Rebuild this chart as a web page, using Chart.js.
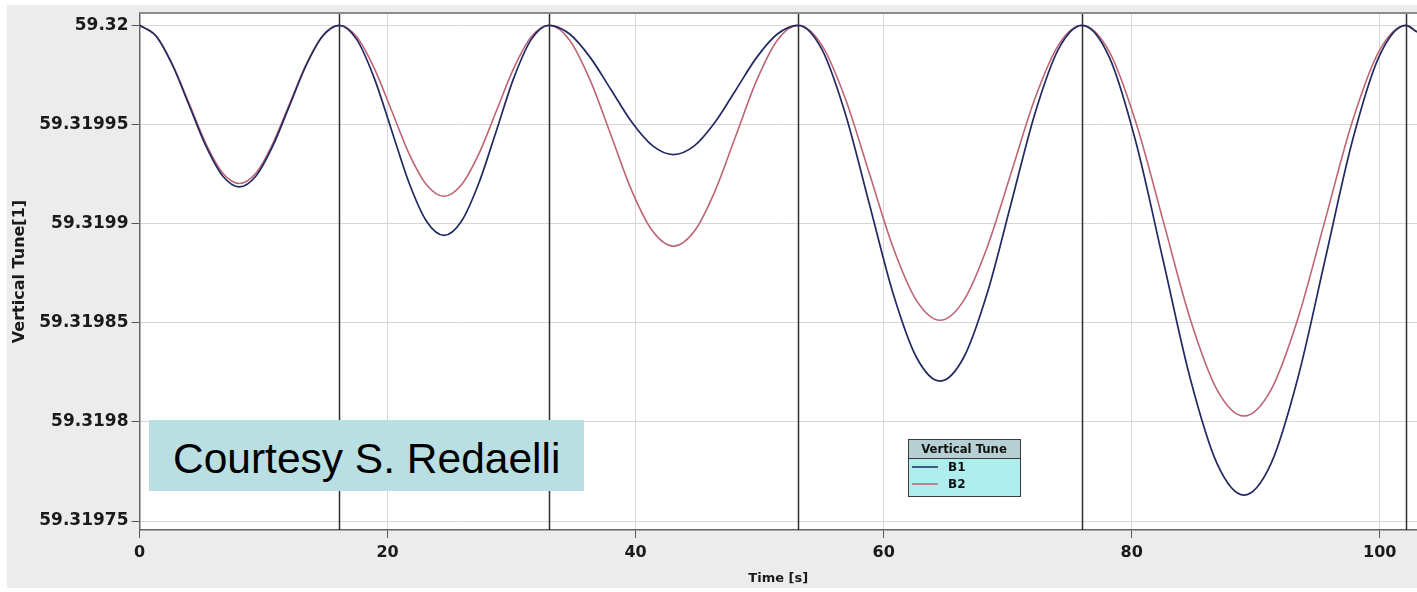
<!DOCTYPE html>
<html>
<head>
<meta charset="utf-8">
<script src="https://cdn.jsdelivr.net/npm/chart.js@4.4.0/dist/chart.umd.min.js"></script>
<style>
  html, body { margin: 0; padding: 0; background: #fff; }
  #panel { position: absolute; left: 7px; top: 5px; width: 1410px; height: 583px; background: #ececec; }
  #tune { display: block; }
  .courtesy {
    position: absolute; left: 142px; top: 415px; width: 435px; height: 71px;
    box-sizing: border-box; padding-left: 24px; overflow: hidden;
    background: #b9dfe3; color: #000;
    font-family: "Liberation Sans", Arial, sans-serif; font-size: 42.5px; line-height: 77px;
  }
</style>
</head>
<body>
<div id="panel">
  <canvas id="tune" width="1410" height="583"></canvas>
  <div class="courtesy">Courtesy S. Redaelli</div>
</div>
<script>
// time axis [s]
const times = [
  0, 1.34, 2.68, 4.03, 5.37, 6.71, 8.05, 9.39, 10.73, 12.08, 13.42, 14.76,
  16.1, 17.51, 18.92, 20.33, 21.73, 23.14, 24.55, 25.96, 27.37, 28.78, 30.18, 31.59,
  33.0, 34.68, 36.35, 38.03, 39.7, 41.38, 43.05, 44.73, 46.4, 48.08, 49.75, 51.43,
  53.1, 55.01, 56.92, 58.83, 60.73, 62.64, 64.55, 66.46, 68.37, 70.28, 72.18, 74.09,
  76.0, 78.18, 80.35, 82.53, 84.7, 86.88, 89.05, 91.23, 93.4, 95.58, 97.75, 99.93,
  102.1, 103.0
];

const tuneB1 = [
  59.32, 59.3199945, 59.3199796, 59.3199592, 59.3199389, 59.3199240, 59.3199185, 59.3199240, 59.3199389, 59.3199592, 59.3199796, 59.3199945,
  59.32, 59.3199929, 59.3199735, 59.3199470, 59.3199206, 59.3199012, 59.3198941, 59.3199012, 59.3199206, 59.3199470, 59.3199735, 59.3199929,
  59.32, 59.3199956, 59.3199837, 59.3199674, 59.3199511, 59.3199392, 59.3199348, 59.3199392, 59.3199511, 59.3199674, 59.3199837, 59.3199956,
  59.32, 59.3199880, 59.3199552, 59.3199103, 59.3198654, 59.3198326, 59.3198206, 59.3198326, 59.3198654, 59.3199103, 59.3199552, 59.3199880,
  59.32, 59.3199841, 59.3199408, 59.3198815, 59.3198223, 59.3197790, 59.3197631, 59.3197790, 59.3198223, 59.3198815, 59.3199408, 59.3199841,
  59.32, 59.3199966
];

const tuneB2 = [
  59.32, 59.3199947, 59.3199800, 59.3199601, 59.3199401, 59.3199255, 59.3199202, 59.3199255, 59.3199401, 59.3199601, 59.3199800, 59.3199947,
  59.32, 59.3199942, 59.3199784, 59.3199569, 59.3199353, 59.3199196, 59.3199138, 59.3199196, 59.3199353, 59.3199569, 59.3199784, 59.3199942,
  59.32, 59.3199925, 59.3199721, 59.3199443, 59.3199164, 59.3198961, 59.3198886, 59.3198961, 59.3199164, 59.3199443, 59.3199721, 59.3199925,
  59.32, 59.3199900, 59.3199628, 59.3199256, 59.3198885, 59.3198613, 59.3198513, 59.3198613, 59.3198885, 59.3199256, 59.3199628, 59.3199900,
  59.32, 59.3199868, 59.3199507, 59.3199015, 59.3198522, 59.3198162, 59.3198030, 59.3198162, 59.3198522, 59.3199015, 59.3199507, 59.3199868,
  59.32, 59.3199968
];

// vertical event lines [s]
const markerTimes = [16.1, 33.0, 53.1, 76.0, 102.1];

const yTickValues = [59.31975, 59.3198, 59.31985, 59.3199, 59.31995, 59.32];
const yTickLabels = ['59.31975', '59.3198', '59.31985', '59.3199', '59.31995', '59.32'];
const xTickValues = [0, 20, 40, 60, 80, 100];
const xTickLabels = ['0', '20', '40', '60', '80', '100'];

const legendTitle = 'Vertical Tune';

Chart.defaults.font.family = '"DejaVu Sans", sans-serif';
Chart.defaults.color = '#1a1a1a';

const toPoints = ys => times.map((t, i) => ({ x: t, y: ys[i] }));

// white plot area + event lines + top border
const plotDecor = {
  id: 'plotDecor',
  beforeDraw(chart) {
    const { ctx, chartArea: a } = chart;
    ctx.save();
    ctx.fillStyle = '#ffffff';
    ctx.fillRect(a.left, a.top, a.width, a.height);
    ctx.restore();
  },
  beforeDatasetsDraw(chart) {
    const { ctx, chartArea: a, scales: { x } } = chart;
    ctx.save();
    ctx.beginPath();
    ctx.rect(a.left, a.top, a.width, a.height);
    ctx.clip();
    ctx.strokeStyle = '#2e2e2e';
    ctx.lineWidth = 1.5;
    markerTimes.forEach(t => {
      const px = Math.round(x.getPixelForValue(t)) + 0.5;
      ctx.beginPath();
      ctx.moveTo(px, a.top);
      ctx.lineTo(px, a.bottom);
      ctx.stroke();
    });
    ctx.restore();
  },
  afterDraw(chart) {
    const { ctx, chartArea: a } = chart;
    ctx.save();
    ctx.strokeStyle = '#8c8c8c';
    ctx.lineWidth = 2;
    ctx.beginPath();
    ctx.moveTo(a.left, a.top);
    ctx.lineTo(a.right, a.top);
    ctx.stroke();
    ctx.restore();
  }
};

// small boxed legend inside the plot
const boxLegend = {
  id: 'boxLegend',
  afterDraw(chart) {
    const ctx = chart.ctx;
    const left = 901, top = 434, w = 112, titleH = 19, rowH = 17;
    const h = titleH + rowH * chart.data.datasets.length + 4;
    ctx.save();
    ctx.fillStyle = '#b6cfd2';
    ctx.fillRect(left, top, w, titleH);
    ctx.fillStyle = '#aeeeee';
    ctx.fillRect(left, top + titleH, w, h - titleH);
    ctx.strokeStyle = '#3a3a3a';
    ctx.lineWidth = 1;
    ctx.strokeRect(left + 0.5, top + 0.5, w, h);
    ctx.beginPath();
    ctx.moveTo(left, top + titleH + 0.5);
    ctx.lineTo(left + w, top + titleH + 0.5);
    ctx.stroke();

    ctx.fillStyle = '#111';
    ctx.font = 'bold 13px "DejaVu Sans Condensed", "DejaVu Sans", sans-serif';
    ctx.textAlign = 'center';
    ctx.textBaseline = 'middle';
    ctx.fillText(legendTitle, left + w / 2, top + titleH / 2 + 1);

    ctx.font = 'bold 12px "DejaVu Sans", sans-serif';
    ctx.textAlign = 'left';
    chart.data.datasets.forEach((ds, i) => {
      const cy = top + titleH + 9 + i * rowH;
      ctx.strokeStyle = ds.borderColor;
      ctx.lineWidth = 1.5;
      ctx.beginPath();
      ctx.moveTo(left + 4, cy);
      ctx.lineTo(left + 30, cy);
      ctx.stroke();
      ctx.fillStyle = '#111';
      ctx.fillText(ds.label, left + 40, cy + 1);
    });
    ctx.restore();
  }
};

new Chart(document.getElementById('tune'), {
  type: 'line',
  data: {
    datasets: [
      {
        label: 'B1',
        data: toPoints(tuneB1),
        borderColor: '#222a62',
        borderWidth: 1.7,
        pointRadius: 0,
        cubicInterpolationMode: 'monotone'
      },
      {
        label: 'B2',
        data: toPoints(tuneB2),
        borderColor: '#bd6574',
        borderWidth: 1.6,
        pointRadius: 0,
        cubicInterpolationMode: 'monotone'
      }
    ]
  },
  options: {
    responsive: false,
    devicePixelRatio: 1,
    animation: false,
    layout: { padding: { top: 8, right: 0, bottom: 0, left: 0 } },
    plugins: {
      legend: { display: false },
      tooltip: { enabled: false }
    },
    scales: {
      x: {
        type: 'linear',
        min: 0,
        max: 103,
        afterFit: s => { s.height = 58; s.paddingLeft = 0; s.paddingRight = 0; },
        afterBuildTicks: s => { s.ticks = xTickValues.map(v => ({ value: v })); },
        ticks: {
          callback: (v, i) => xTickLabels[i],
          font: { size: 16, weight: 'bold' },
          padding: 5,
          maxRotation: 0
        },
        grid: { color: '#d6d6d6', tickColor: '#555', tickLength: 8 },
        border: { color: '#666', width: 1.5 },
        title: {
          display: true,
          text: 'Time [s]',
          font: { size: 13, weight: 'bold' },
          padding: { top: 0, bottom: 2 }
        }
      },
      y: {
        type: 'linear',
        min: 59.3197455,
        max: 59.3200062,
        afterFit: s => { s.width = 132.5; s.paddingTop = 0; s.paddingBottom = 0; },
        afterBuildTicks: s => { s.ticks = yTickValues.map(v => ({ value: v })); },
        ticks: {
          callback: (v, i) => yTickLabels[i],
          font: { size: 17, weight: 'bold' },
          padding: 3
        },
        grid: { color: '#d6d6d6', tickColor: '#555', tickLength: 8 },
        border: { color: '#666', width: 1.5 },
        title: {
          display: true,
          text: 'Vertical Tune[1]',
          font: { size: 16, weight: 'bold' },
          padding: { top: 3, bottom: 0 }
        }
      }
    }
  },
  plugins: [plotDecor, boxLegend]
});
</script>
</body>
</html>
